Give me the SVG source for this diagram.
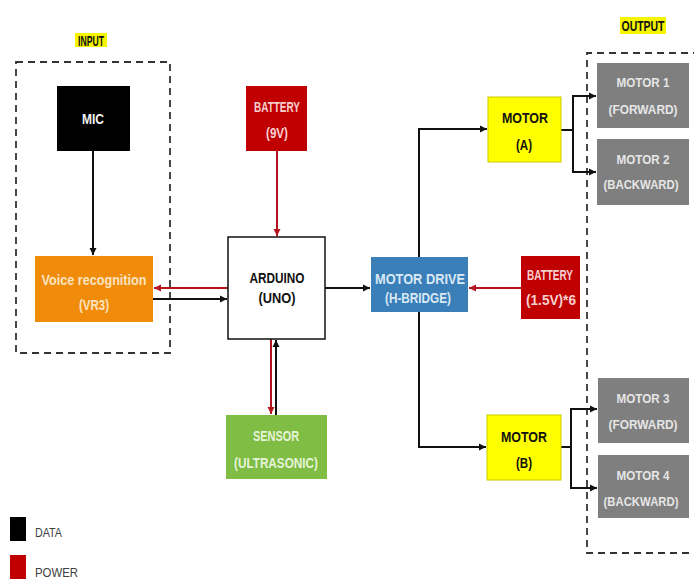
<svg xmlns="http://www.w3.org/2000/svg" width="694" height="579" viewBox="0 0 694 579">
<defs>
<style>
.t{font-family:"Liberation Sans",Arial,sans-serif;font-size:15px;font-weight:bold;text-anchor:middle}
.g{font-size:13px;fill:#e6e6e6}
.w{fill:#f2f2f2}
.k{fill:#111}
.d{fill:none;stroke:#333;stroke-width:1.8;stroke-dasharray:7,5}
.bl{fill:none;stroke:#111;stroke-width:2}
.rd{fill:none;stroke:#b3141e;stroke-width:2}
.lg{font-family:"Liberation Sans",Arial,sans-serif;font-size:13px;fill:#404040}
</style>
<marker id="ak" markerWidth="8" markerHeight="8" refX="7" refY="4" orient="auto" markerUnits="userSpaceOnUse"><path d="M0,0.5 L7,4 L0,7.5 Z" fill="#111"/></marker>
<marker id="ar" markerWidth="8" markerHeight="8" refX="7" refY="4" orient="auto" markerUnits="userSpaceOnUse"><path d="M0,0.5 L7,4 L0,7.5 Z" fill="#b3141e"/></marker>
</defs>
<rect width="694" height="579" fill="#fff"/>

<g id="input-group">
<rect x="75" y="33" width="32" height="14" fill="#f5f500"/>
<text class="t k" x="91" y="46" textLength="26" lengthAdjust="spacingAndGlyphs">INPUT</text>
<rect class="d" x="16" y="62" width="154" height="291"/>
</g>
<g id="output-group">
<rect x="620" y="17" width="46" height="17" fill="#f5f500"/>
<text class="t k" x="643" y="31" textLength="43" lengthAdjust="spacingAndGlyphs">OUTPUT</text>
<path class="d" d="M700,53 H587 V553 H700"/>
</g>

<g id="connectors">
<line class="bl" x1="93" y1="151" x2="93" y2="255" marker-end="url(#ak)"/>
<line class="rd" x1="228" y1="288" x2="154" y2="288" marker-end="url(#ar)"/>
<line class="bl" x1="153" y1="299" x2="227" y2="299" marker-end="url(#ak)"/>
<line class="rd" x1="277" y1="151" x2="277" y2="236" marker-end="url(#ar)"/>
<line class="rd" x1="271" y1="339" x2="271" y2="414" marker-end="url(#ar)"/>
<line class="bl" x1="276" y1="415" x2="276" y2="340" marker-end="url(#ak)"/>
<line class="bl" x1="325" y1="288" x2="370" y2="288" marker-end="url(#ak)"/>
<line class="rd" x1="521" y1="288" x2="469" y2="288" marker-end="url(#ar)"/>
<path class="bl" d="M419,257 V129 H487" marker-end="url(#ak)"/>
<path class="bl" d="M419,311 V447 H486" marker-end="url(#ak)"/>
<path class="bl" d="M561,130 H573"/>
<path class="bl" d="M596,96 H573 V172 H596" />
<line class="bl" x1="580" y1="96" x2="596" y2="96" marker-end="url(#ak)"/>
<line class="bl" x1="580" y1="172" x2="596" y2="172" marker-end="url(#ak)"/>
<path class="bl" d="M561,447 H571"/>
<path class="bl" d="M580,409 H571 V488 H580"/>
<line class="bl" x1="578" y1="409" x2="597" y2="409" marker-end="url(#ak)"/>
<line class="bl" x1="578" y1="488" x2="597" y2="488" marker-end="url(#ak)"/>
</g>

<g id="mic">
<rect x="57" y="86" width="73" height="65" fill="#000"/>
<text class="t w" x="93" y="124" textLength="22" lengthAdjust="spacingAndGlyphs">MIC</text>
</g>
<g id="voice">
<rect x="35" y="256" width="118" height="66" fill="#f08c0a"/>
<text class="t" fill="#fbe3c0" x="94" y="285" textLength="105" lengthAdjust="spacingAndGlyphs">Voice recognition</text>
<text class="t" fill="#fbe3c0" x="94" y="310" textLength="30" lengthAdjust="spacingAndGlyphs">(VR3)</text>
</g>
<g id="battery9v">
<rect x="246" y="86" width="61" height="65" fill="#c00000"/>
<text class="t" fill="#f6d0d0" x="277" y="112" textLength="46" lengthAdjust="spacingAndGlyphs">BATTERY</text>
<text class="t" fill="#f6d0d0" x="277" y="138" textLength="22" lengthAdjust="spacingAndGlyphs">(9V)</text>
</g>
<g id="arduino">
<rect x="228" y="237" width="97" height="102" fill="#fff" stroke="#111" stroke-width="1.5"/>
<text class="t k" x="277" y="283" textLength="55" lengthAdjust="spacingAndGlyphs">ARDUINO</text>
<text class="t k" x="277" y="303" textLength="37" lengthAdjust="spacingAndGlyphs">(UNO)</text>
</g>
<g id="sensor">
<rect x="226" y="415" width="101" height="64" fill="#7fbd45"/>
<text class="t" fill="#e6f3d8" x="276" y="441" textLength="46" lengthAdjust="spacingAndGlyphs">SENSOR</text>
<text class="t" fill="#e6f3d8" x="276" y="468" textLength="84" lengthAdjust="spacingAndGlyphs">(ULTRASONIC)</text>
</g>
<g id="motor-drive">
<rect x="371" y="257" width="97" height="55" fill="#3a7fb8"/>
<text class="t" fill="#d8e8f5" x="420" y="284" textLength="90" lengthAdjust="spacingAndGlyphs">MOTOR DRIVE</text>
<text class="t" fill="#d8e8f5" x="418" y="303" textLength="66" lengthAdjust="spacingAndGlyphs">(H-BRIDGE)</text>
</g>
<g id="battery15">
<rect x="521" y="256" width="59" height="63" fill="#c00000"/>
<text class="t" fill="#f6d0d0" x="550" y="280" textLength="46" lengthAdjust="spacingAndGlyphs">BATTERY</text>
<text class="t" fill="#f6d0d0" x="551" y="305" textLength="50" lengthAdjust="spacingAndGlyphs">(1.5V)*6</text>
</g>
<g id="motor-a">
<rect x="488" y="97" width="73" height="65" fill="#ffff00" stroke="#c8c800" stroke-width="1"/>
<text class="t k" x="525" y="123" textLength="46" lengthAdjust="spacingAndGlyphs">MOTOR</text>
<text class="t k" x="524" y="150" textLength="16" lengthAdjust="spacingAndGlyphs">(A)</text>
</g>
<g id="motor-b">
<rect x="487" y="415" width="74" height="65" fill="#ffff00" stroke="#c8c800" stroke-width="1"/>
<text class="t k" x="524" y="442" textLength="46" lengthAdjust="spacingAndGlyphs">MOTOR</text>
<text class="t k" x="524" y="468" textLength="16" lengthAdjust="spacingAndGlyphs">(B)</text>
</g>
<g id="motor1">
<rect x="597" y="63" width="92" height="65" fill="#7f7f7f"/>
<text class="t g" x="643" y="87" textLength="53" lengthAdjust="spacingAndGlyphs">MOTOR 1</text>
<text class="t g" x="643" y="114" textLength="69" lengthAdjust="spacingAndGlyphs">(FORWARD)</text>
</g>
<g id="motor2">
<rect x="597" y="139" width="92" height="66" fill="#7f7f7f"/>
<text class="t g" x="643" y="164" textLength="53" lengthAdjust="spacingAndGlyphs">MOTOR 2</text>
<text class="t g" x="641" y="189" textLength="75" lengthAdjust="spacingAndGlyphs">(BACKWARD)</text>
</g>
<g id="motor3">
<rect x="598" y="378" width="91" height="65" fill="#7f7f7f"/>
<text class="t g" x="643" y="403" textLength="53" lengthAdjust="spacingAndGlyphs">MOTOR 3</text>
<text class="t g" x="643" y="429" textLength="69" lengthAdjust="spacingAndGlyphs">(FORWARD)</text>
</g>
<g id="motor4">
<rect x="598" y="455" width="91" height="63" fill="#7f7f7f"/>
<text class="t g" x="643" y="480" textLength="53" lengthAdjust="spacingAndGlyphs">MOTOR 4</text>
<text class="t g" x="641" y="506" textLength="75" lengthAdjust="spacingAndGlyphs">(BACKWARD)</text>
</g>

<g id="legend">
<rect x="10" y="517" width="16" height="24" fill="#000"/>
<text class="lg" x="35" y="537" textLength="27" lengthAdjust="spacingAndGlyphs">DATA</text>
<rect x="10" y="555" width="16" height="24" fill="#c00000"/>
<text class="lg" x="35" y="577" textLength="43" lengthAdjust="spacingAndGlyphs">POWER</text>
</g>
</svg>
